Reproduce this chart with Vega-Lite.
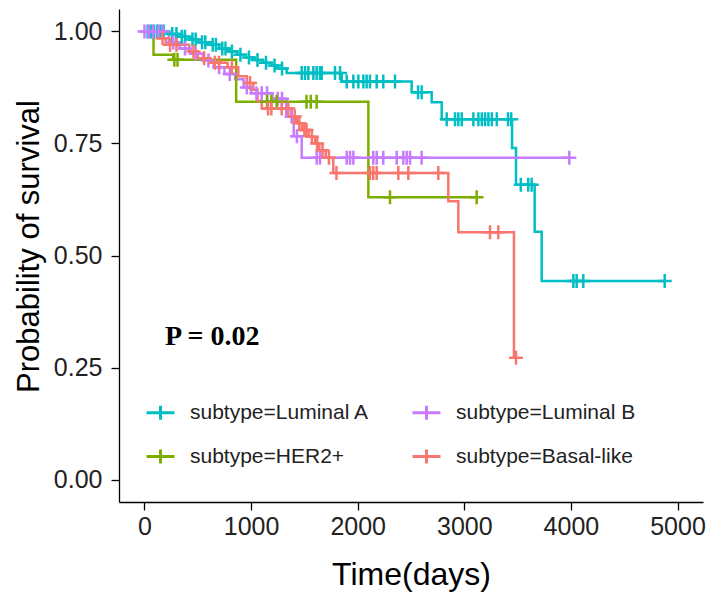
{
  "$schema": "https://vega.github.io/schema/vega-lite/v6.json",
  "width": 584,
  "height": 493,
  "autosize": {"type": "none"},
  "padding": {"left": 119, "top": 9, "right": 15, "bottom": 96},
  "background": "white",
  "config": {
    "view": {"stroke": null},
    "font": "Liberation Sans",
    "axis": {"grid": false, "domainColor": "black", "domainWidth": 1.3, "tickColor": "black", "tickWidth": 1.3, "tickSize": 8, "labelFont": "Liberation Sans", "labelFontSize": 25, "labelColor": "#222222", "titleFont": "Liberation Sans", "titleFontSize": 32, "titleFontWeight": "normal", "titleColor": "black"}
  },
  "datasets": {
    "curves": [
      {"subtype": "Luminal A", "t": 0, "s": 1.0},
      {"subtype": "Luminal A", "t": 220, "s": 0.994},
      {"subtype": "Luminal A", "t": 320, "s": 0.988},
      {"subtype": "Luminal A", "t": 420, "s": 0.982},
      {"subtype": "Luminal A", "t": 500, "s": 0.976},
      {"subtype": "Luminal A", "t": 600, "s": 0.970},
      {"subtype": "Luminal A", "t": 700, "s": 0.962},
      {"subtype": "Luminal A", "t": 790, "s": 0.955},
      {"subtype": "Luminal A", "t": 870, "s": 0.948},
      {"subtype": "Luminal A", "t": 950, "s": 0.942},
      {"subtype": "Luminal A", "t": 1030, "s": 0.936},
      {"subtype": "Luminal A", "t": 1110, "s": 0.930},
      {"subtype": "Luminal A", "t": 1190, "s": 0.924},
      {"subtype": "Luminal A", "t": 1250, "s": 0.917},
      {"subtype": "Luminal A", "t": 1334, "s": 0.907},
      {"subtype": "Luminal A", "t": 1850, "s": 0.888},
      {"subtype": "Luminal A", "t": 2506, "s": 0.864},
      {"subtype": "Luminal A", "t": 2694, "s": 0.842},
      {"subtype": "Luminal A", "t": 2788, "s": 0.804},
      {"subtype": "Luminal A", "t": 3448, "s": 0.740},
      {"subtype": "Luminal A", "t": 3485, "s": 0.658},
      {"subtype": "Luminal A", "t": 3660, "s": 0.553},
      {"subtype": "Luminal A", "t": 3726, "s": 0.443},
      {"subtype": "Luminal A", "t": 4880, "s": 0.443},
      {"subtype": "Luminal B", "t": 0, "s": 1.0},
      {"subtype": "Luminal B", "t": 230, "s": 0.975},
      {"subtype": "Luminal B", "t": 330, "s": 0.962},
      {"subtype": "Luminal B", "t": 430, "s": 0.950},
      {"subtype": "Luminal B", "t": 550, "s": 0.935},
      {"subtype": "Luminal B", "t": 650, "s": 0.920},
      {"subtype": "Luminal B", "t": 750, "s": 0.905},
      {"subtype": "Luminal B", "t": 850, "s": 0.893},
      {"subtype": "Luminal B", "t": 930, "s": 0.875},
      {"subtype": "Luminal B", "t": 1000, "s": 0.862},
      {"subtype": "Luminal B", "t": 1200, "s": 0.850},
      {"subtype": "Luminal B", "t": 1330, "s": 0.810},
      {"subtype": "Luminal B", "t": 1400, "s": 0.766},
      {"subtype": "Luminal B", "t": 1475, "s": 0.718},
      {"subtype": "Luminal B", "t": 3985, "s": 0.718},
      {"subtype": "HER2+", "t": 0, "s": 1.0},
      {"subtype": "HER2+", "t": 85, "s": 0.948},
      {"subtype": "HER2+", "t": 270, "s": 0.937},
      {"subtype": "HER2+", "t": 860, "s": 0.843},
      {"subtype": "HER2+", "t": 2100, "s": 0.630},
      {"subtype": "HER2+", "t": 3116, "s": 0.630},
      {"subtype": "Basal-like", "t": 0, "s": 1.0},
      {"subtype": "Basal-like", "t": 130, "s": 0.985},
      {"subtype": "Basal-like", "t": 200, "s": 0.970},
      {"subtype": "Basal-like", "t": 420, "s": 0.955},
      {"subtype": "Basal-like", "t": 500, "s": 0.940},
      {"subtype": "Basal-like", "t": 620, "s": 0.930},
      {"subtype": "Basal-like", "t": 780, "s": 0.920},
      {"subtype": "Basal-like", "t": 880, "s": 0.900},
      {"subtype": "Basal-like", "t": 960, "s": 0.885},
      {"subtype": "Basal-like", "t": 1020, "s": 0.870},
      {"subtype": "Basal-like", "t": 1060, "s": 0.845},
      {"subtype": "Basal-like", "t": 1100, "s": 0.828},
      {"subtype": "Basal-like", "t": 1380, "s": 0.810},
      {"subtype": "Basal-like", "t": 1430, "s": 0.795},
      {"subtype": "Basal-like", "t": 1480, "s": 0.780},
      {"subtype": "Basal-like", "t": 1540, "s": 0.765},
      {"subtype": "Basal-like", "t": 1600, "s": 0.750},
      {"subtype": "Basal-like", "t": 1640, "s": 0.735},
      {"subtype": "Basal-like", "t": 1700, "s": 0.718},
      {"subtype": "Basal-like", "t": 1771, "s": 0.684},
      {"subtype": "Basal-like", "t": 2850, "s": 0.621},
      {"subtype": "Basal-like", "t": 2944, "s": 0.552},
      {"subtype": "Basal-like", "t": 3466, "s": 0.272},
      {"subtype": "Basal-like", "t": 3485, "s": 0.272}
    ],
    "censor": [
      {"subtype": "Luminal A", "t": 30, "s": 1.0},
      {"subtype": "Luminal A", "t": 60, "s": 1.0},
      {"subtype": "Luminal A", "t": 90, "s": 1.0},
      {"subtype": "Luminal A", "t": 120, "s": 1.0},
      {"subtype": "Luminal A", "t": 150, "s": 1.0},
      {"subtype": "Luminal A", "t": 180, "s": 1.0},
      {"subtype": "Luminal A", "t": 260, "s": 0.994},
      {"subtype": "Luminal A", "t": 300, "s": 0.994},
      {"subtype": "Luminal A", "t": 350, "s": 0.988},
      {"subtype": "Luminal A", "t": 380, "s": 0.988},
      {"subtype": "Luminal A", "t": 450, "s": 0.982},
      {"subtype": "Luminal A", "t": 480, "s": 0.982},
      {"subtype": "Luminal A", "t": 540, "s": 0.976},
      {"subtype": "Luminal A", "t": 570, "s": 0.976},
      {"subtype": "Luminal A", "t": 640, "s": 0.970},
      {"subtype": "Luminal A", "t": 670, "s": 0.970},
      {"subtype": "Luminal A", "t": 730, "s": 0.962},
      {"subtype": "Luminal A", "t": 760, "s": 0.962},
      {"subtype": "Luminal A", "t": 820, "s": 0.955},
      {"subtype": "Luminal A", "t": 900, "s": 0.948},
      {"subtype": "Luminal A", "t": 980, "s": 0.942},
      {"subtype": "Luminal A", "t": 1060, "s": 0.936},
      {"subtype": "Luminal A", "t": 1140, "s": 0.930},
      {"subtype": "Luminal A", "t": 1220, "s": 0.924},
      {"subtype": "Luminal A", "t": 1290, "s": 0.917},
      {"subtype": "Luminal A", "t": 1475, "s": 0.907},
      {"subtype": "Luminal A", "t": 1506, "s": 0.907},
      {"subtype": "Luminal A", "t": 1537, "s": 0.907},
      {"subtype": "Luminal A", "t": 1584, "s": 0.907},
      {"subtype": "Luminal A", "t": 1615, "s": 0.907},
      {"subtype": "Luminal A", "t": 1646, "s": 0.907},
      {"subtype": "Luminal A", "t": 1662, "s": 0.907},
      {"subtype": "Luminal A", "t": 1787, "s": 0.907},
      {"subtype": "Luminal A", "t": 1834, "s": 0.907},
      {"subtype": "Luminal A", "t": 1897, "s": 0.888},
      {"subtype": "Luminal A", "t": 1959, "s": 0.888},
      {"subtype": "Luminal A", "t": 2006, "s": 0.888},
      {"subtype": "Luminal A", "t": 2053, "s": 0.888},
      {"subtype": "Luminal A", "t": 2084, "s": 0.888},
      {"subtype": "Luminal A", "t": 2115, "s": 0.888},
      {"subtype": "Luminal A", "t": 2178, "s": 0.888},
      {"subtype": "Luminal A", "t": 2240, "s": 0.888},
      {"subtype": "Luminal A", "t": 2350, "s": 0.888},
      {"subtype": "Luminal A", "t": 2566, "s": 0.864},
      {"subtype": "Luminal A", "t": 2600, "s": 0.864},
      {"subtype": "Luminal A", "t": 2835, "s": 0.804},
      {"subtype": "Luminal A", "t": 2913, "s": 0.804},
      {"subtype": "Luminal A", "t": 2944, "s": 0.804},
      {"subtype": "Luminal A", "t": 2976, "s": 0.804},
      {"subtype": "Luminal A", "t": 3085, "s": 0.804},
      {"subtype": "Luminal A", "t": 3132, "s": 0.804},
      {"subtype": "Luminal A", "t": 3164, "s": 0.804},
      {"subtype": "Luminal A", "t": 3195, "s": 0.804},
      {"subtype": "Luminal A", "t": 3226, "s": 0.804},
      {"subtype": "Luminal A", "t": 3258, "s": 0.804},
      {"subtype": "Luminal A", "t": 3305, "s": 0.804},
      {"subtype": "Luminal A", "t": 3410, "s": 0.804},
      {"subtype": "Luminal A", "t": 3440, "s": 0.804},
      {"subtype": "Luminal A", "t": 3530, "s": 0.658},
      {"subtype": "Luminal A", "t": 3600, "s": 0.658},
      {"subtype": "Luminal A", "t": 3632, "s": 0.658},
      {"subtype": "Luminal A", "t": 4023, "s": 0.443},
      {"subtype": "Luminal A", "t": 4054, "s": 0.443},
      {"subtype": "Luminal A", "t": 4116, "s": 0.443},
      {"subtype": "Luminal A", "t": 4880, "s": 0.443},
      {"subtype": "Luminal B", "t": 0, "s": 1.0},
      {"subtype": "Luminal B", "t": 40, "s": 1.0},
      {"subtype": "Luminal B", "t": 80, "s": 1.0},
      {"subtype": "Luminal B", "t": 130, "s": 1.0},
      {"subtype": "Luminal B", "t": 170, "s": 1.0},
      {"subtype": "Luminal B", "t": 270, "s": 0.975},
      {"subtype": "Luminal B", "t": 380, "s": 0.962},
      {"subtype": "Luminal B", "t": 480, "s": 0.950},
      {"subtype": "Luminal B", "t": 600, "s": 0.935},
      {"subtype": "Luminal B", "t": 700, "s": 0.920},
      {"subtype": "Luminal B", "t": 800, "s": 0.905},
      {"subtype": "Luminal B", "t": 960, "s": 0.875},
      {"subtype": "Luminal B", "t": 1050, "s": 0.862},
      {"subtype": "Luminal B", "t": 1100, "s": 0.862},
      {"subtype": "Luminal B", "t": 1150, "s": 0.862},
      {"subtype": "Luminal B", "t": 1250, "s": 0.850},
      {"subtype": "Luminal B", "t": 1290, "s": 0.850},
      {"subtype": "Luminal B", "t": 1380, "s": 0.810},
      {"subtype": "Luminal B", "t": 1430, "s": 0.766},
      {"subtype": "Luminal B", "t": 1615, "s": 0.718},
      {"subtype": "Luminal B", "t": 1646, "s": 0.718},
      {"subtype": "Luminal B", "t": 1897, "s": 0.718},
      {"subtype": "Luminal B", "t": 1928, "s": 0.718},
      {"subtype": "Luminal B", "t": 1959, "s": 0.718},
      {"subtype": "Luminal B", "t": 2146, "s": 0.718},
      {"subtype": "Luminal B", "t": 2178, "s": 0.718},
      {"subtype": "Luminal B", "t": 2240, "s": 0.718},
      {"subtype": "Luminal B", "t": 2366, "s": 0.718},
      {"subtype": "Luminal B", "t": 2428, "s": 0.718},
      {"subtype": "Luminal B", "t": 2460, "s": 0.718},
      {"subtype": "Luminal B", "t": 2491, "s": 0.718},
      {"subtype": "Luminal B", "t": 2600, "s": 0.718},
      {"subtype": "Luminal B", "t": 3985, "s": 0.718},
      {"subtype": "HER2+", "t": 280, "s": 0.937},
      {"subtype": "HER2+", "t": 310, "s": 0.937},
      {"subtype": "HER2+", "t": 1150, "s": 0.843},
      {"subtype": "HER2+", "t": 1190, "s": 0.843},
      {"subtype": "HER2+", "t": 1240, "s": 0.843},
      {"subtype": "HER2+", "t": 1520, "s": 0.843},
      {"subtype": "HER2+", "t": 1560, "s": 0.843},
      {"subtype": "HER2+", "t": 1615, "s": 0.843},
      {"subtype": "HER2+", "t": 2303, "s": 0.630},
      {"subtype": "HER2+", "t": 3116, "s": 0.630},
      {"subtype": "Basal-like", "t": 170, "s": 0.985},
      {"subtype": "Basal-like", "t": 240, "s": 0.970},
      {"subtype": "Basal-like", "t": 300, "s": 0.970},
      {"subtype": "Basal-like", "t": 460, "s": 0.955},
      {"subtype": "Basal-like", "t": 560, "s": 0.940},
      {"subtype": "Basal-like", "t": 660, "s": 0.930},
      {"subtype": "Basal-like", "t": 700, "s": 0.930},
      {"subtype": "Basal-like", "t": 820, "s": 0.920},
      {"subtype": "Basal-like", "t": 990, "s": 0.885},
      {"subtype": "Basal-like", "t": 1159, "s": 0.828},
      {"subtype": "Basal-like", "t": 1190, "s": 0.828},
      {"subtype": "Basal-like", "t": 1287, "s": 0.828},
      {"subtype": "Basal-like", "t": 1349, "s": 0.828},
      {"subtype": "Basal-like", "t": 1410, "s": 0.810},
      {"subtype": "Basal-like", "t": 1453, "s": 0.795},
      {"subtype": "Basal-like", "t": 1500, "s": 0.780},
      {"subtype": "Basal-like", "t": 1520, "s": 0.780},
      {"subtype": "Basal-like", "t": 1570, "s": 0.765},
      {"subtype": "Basal-like", "t": 1620, "s": 0.750},
      {"subtype": "Basal-like", "t": 1670, "s": 0.735},
      {"subtype": "Basal-like", "t": 1730, "s": 0.718},
      {"subtype": "Basal-like", "t": 1801, "s": 0.684},
      {"subtype": "Basal-like", "t": 2115, "s": 0.684},
      {"subtype": "Basal-like", "t": 2146, "s": 0.684},
      {"subtype": "Basal-like", "t": 2178, "s": 0.684},
      {"subtype": "Basal-like", "t": 2381, "s": 0.684},
      {"subtype": "Basal-like", "t": 2475, "s": 0.684},
      {"subtype": "Basal-like", "t": 2756, "s": 0.684},
      {"subtype": "Basal-like", "t": 3241, "s": 0.552},
      {"subtype": "Basal-like", "t": 3319, "s": 0.552},
      {"subtype": "Basal-like", "t": 3485, "s": 0.272}
    ],
    "ann": [
      {"label": "P = 0.02", "t": 192, "s": 0.30}
    ]
  },
  "layer": [
    {
      "data": {"name": "curves"},
      "mark": {"type": "line", "interpolate": "step-after", "strokeWidth": 2.5},
      "encoding": {
        "x": {"field": "t", "type": "quantitative", "scale": {"domain": [-239, 5239], "nice": false, "zero": false},
              "axis": {"values": [0, 1000, 2000, 3000, 4000, 5000], "format": "d", "labelPadding": 4, "title": "Time(days)", "titleBaseline": "alphabetic", "titleY": 82, "titleX": 292, "titleAnchor": "middle"}},
        "y": {"field": "s", "type": "quantitative", "scale": {"domain": [-0.05, 1.05], "nice": false, "zero": false},
              "axis": {"values": [0, 0.25, 0.5, 0.75, 1], "format": ".2f", "labelPadding": 9, "title": "Probability of survival", "titleFontSize": 31, "titleAngle": 270, "titleBaseline": "alphabetic", "titleAlign": "center", "titleX": -81, "titleY": 237}},
        "color": {"field": "subtype", "type": "nominal",
                  "scale": {"domain": ["Luminal A", "Luminal B", "HER2+", "Basal-like"], "range": ["#00BFC4", "#C77CFF", "#7CAE00", "#F8766D"]},
                  "legend": {"title": null, "orient": "none", "legendX": 26, "legendY": 388, "columns": 2, "direction": "horizontal",
                             "symbolType": "M-1,0L1,0M0,-0.5L0,0.5", "symbolSize": 784, "symbolStrokeWidth": 3,
                             "labelFont": "Liberation Sans", "labelFontSize": 21, "labelColor": "#222222", "labelOffset": 14, "labelLimit": 400,
                             "columnPadding": 36, "rowPadding": 15, "labelExpr": "'subtype=' + datum.label"}}
      }
    },
    {
      "data": {"name": "censor"},
      "mark": {"type": "point", "shape": "M-1,0L1,0M0,-1L0,1", "size": 196, "filled": false, "strokeWidth": 2.5, "opacity": 1},
      "encoding": {
        "x": {"field": "t", "type": "quantitative"},
        "y": {"field": "s", "type": "quantitative"},
        "color": {"field": "subtype", "type": "nominal"}
      }
    },
    {
      "data": {"name": "ann"},
      "mark": {"type": "text", "font": "Liberation Serif", "fontWeight": "bold", "fontSize": 28, "align": "left", "baseline": "alphabetic", "color": "black"},
      "encoding": {
        "x": {"field": "t", "type": "quantitative"},
        "y": {"field": "s", "type": "quantitative"},
        "text": {"field": "label"}
      }
    }
  ]
}
